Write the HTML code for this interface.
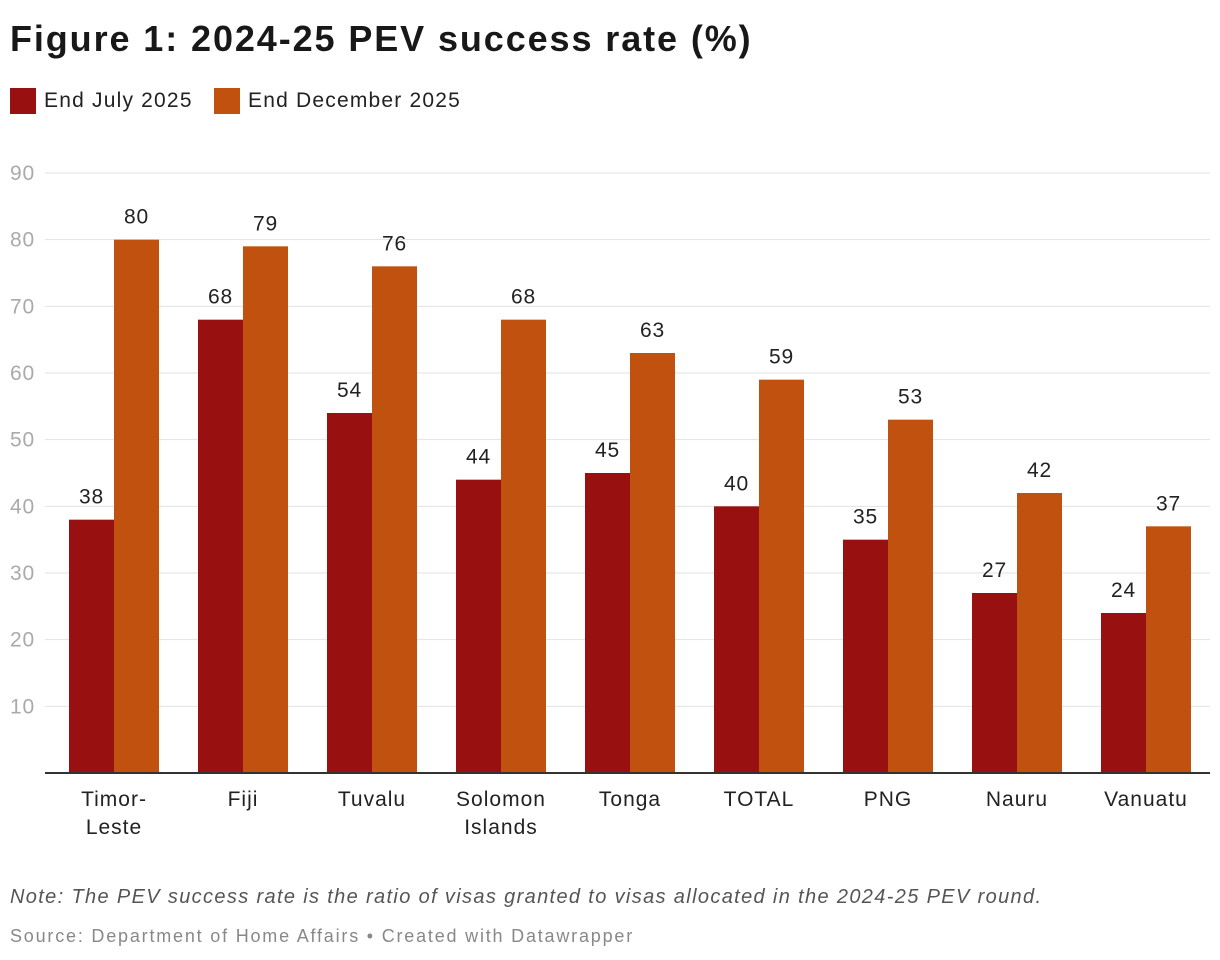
<!DOCTYPE html>
<html><head><meta charset="utf-8"><style>
body{margin:0;background:#fff;font-family:"Liberation Sans",Arial,sans-serif;}
#wrap{position:relative;width:1220px;height:960px;overflow:hidden;}
.title{position:absolute;left:10px;top:18px;font-size:36px;font-weight:bold;color:#181818;letter-spacing:1.9px;}
.legend{position:absolute;top:88px;font-size:21px;color:#222;display:flex;align-items:center;letter-spacing:1.2px;}
.sw{width:26px;height:26px;margin-right:8px;display:inline-block;}
.note{position:absolute;left:10px;top:886px;font-size:20px;font-style:italic;color:#555;letter-spacing:1.35px;}
.src{position:absolute;left:10px;top:926px;font-size:18px;color:#888;letter-spacing:1.8px;}
</style></head><body>
<div id="wrap">
<div class="title">Figure 1: 2024-25 PEV success rate (%)</div>
<div class="legend" style="left:10px"><span class="sw" style="background:#98100f"></span>End July 2025</div>
<div class="legend" style="left:214px"><span class="sw" style="background:#c0510f"></span>End December 2025</div>
<svg id="svg" width="1220" height="960" style="position:absolute;left:0;top:0"></svg>
<div class="note">Note: The PEV success rate is the ratio of visas granted to visas allocated in the 2024-25 PEV round.</div>
<div class="src">Source: Department of Home Affairs • Created with Datawrapper</div>
</div>
<script>
const categories=["Timor-\nLeste","Fiji","Tuvalu","Solomon\nIslands","Tonga","TOTAL","PNG","Nauru","Vanuatu"];
const julyValues=[38,68,54,44,45,40,35,27,24];
const decValues=[80,79,76,68,63,59,53,42,37];
const yTicks=[10,20,30,40,50,60,70,80,90];
const NS="http://www.w3.org/2000/svg";
const svg=document.getElementById('svg');
const y0=773,yTop=173,yMax=90;
function y(v){return y0-(v/yMax)*(y0-yTop);}
const gx0=114,gStep=129,bw=45;
function gx(i){return gx0+i*gStep;}
function mk(t,a){const e=document.createElementNS(NS,t);for(const k in a)e.setAttribute(k,a[k]);svg.appendChild(e);return e;}
const F='Liberation Sans, sans-serif';
yTicks.forEach(t=>{
 const l=mk('line',{x1:45,x2:1210,y1:y(t),y2:y(t),stroke:'#e2e2e2','stroke-width':1});
 
 
 const tx=mk('text',{x:10,y:y(t)+7,'font-size':21,fill:'#aaa','font-family':F,'letter-spacing':'0.8'});
 tx.textContent=t;
 
 
});
function bar(x,v,col,name){
 const r=mk('rect',{x:x,y:y(v),width:bw,height:y0-y(v),fill:col});
 
 
 const t=mk('text',{x:x+bw/2,y:y(v)-16,'font-size':21,fill:'#222','text-anchor':'middle','font-family':F,'letter-spacing':'0.8'});
 t.textContent=v;
 
 
}
categories.forEach((c,i)=>{
 bar(gx(i)-bw,julyValues[i],'#98100f','bar-july');
 bar(gx(i),decValues[i],'#c0510f','bar-december');
 c.split('\n').forEach((ln,j)=>{
  const t=mk('text',{x:gx(i),y:806+j*28,'font-size':21,fill:'#222','text-anchor':'middle','font-family':F,'letter-spacing':'1'});
  t.textContent=ln;
  
  
 });
});
const ax=mk('line',{x1:45,x2:1210,y1:y0,y2:y0,stroke:'#333','stroke-width':2});


</script>
</body></html>
